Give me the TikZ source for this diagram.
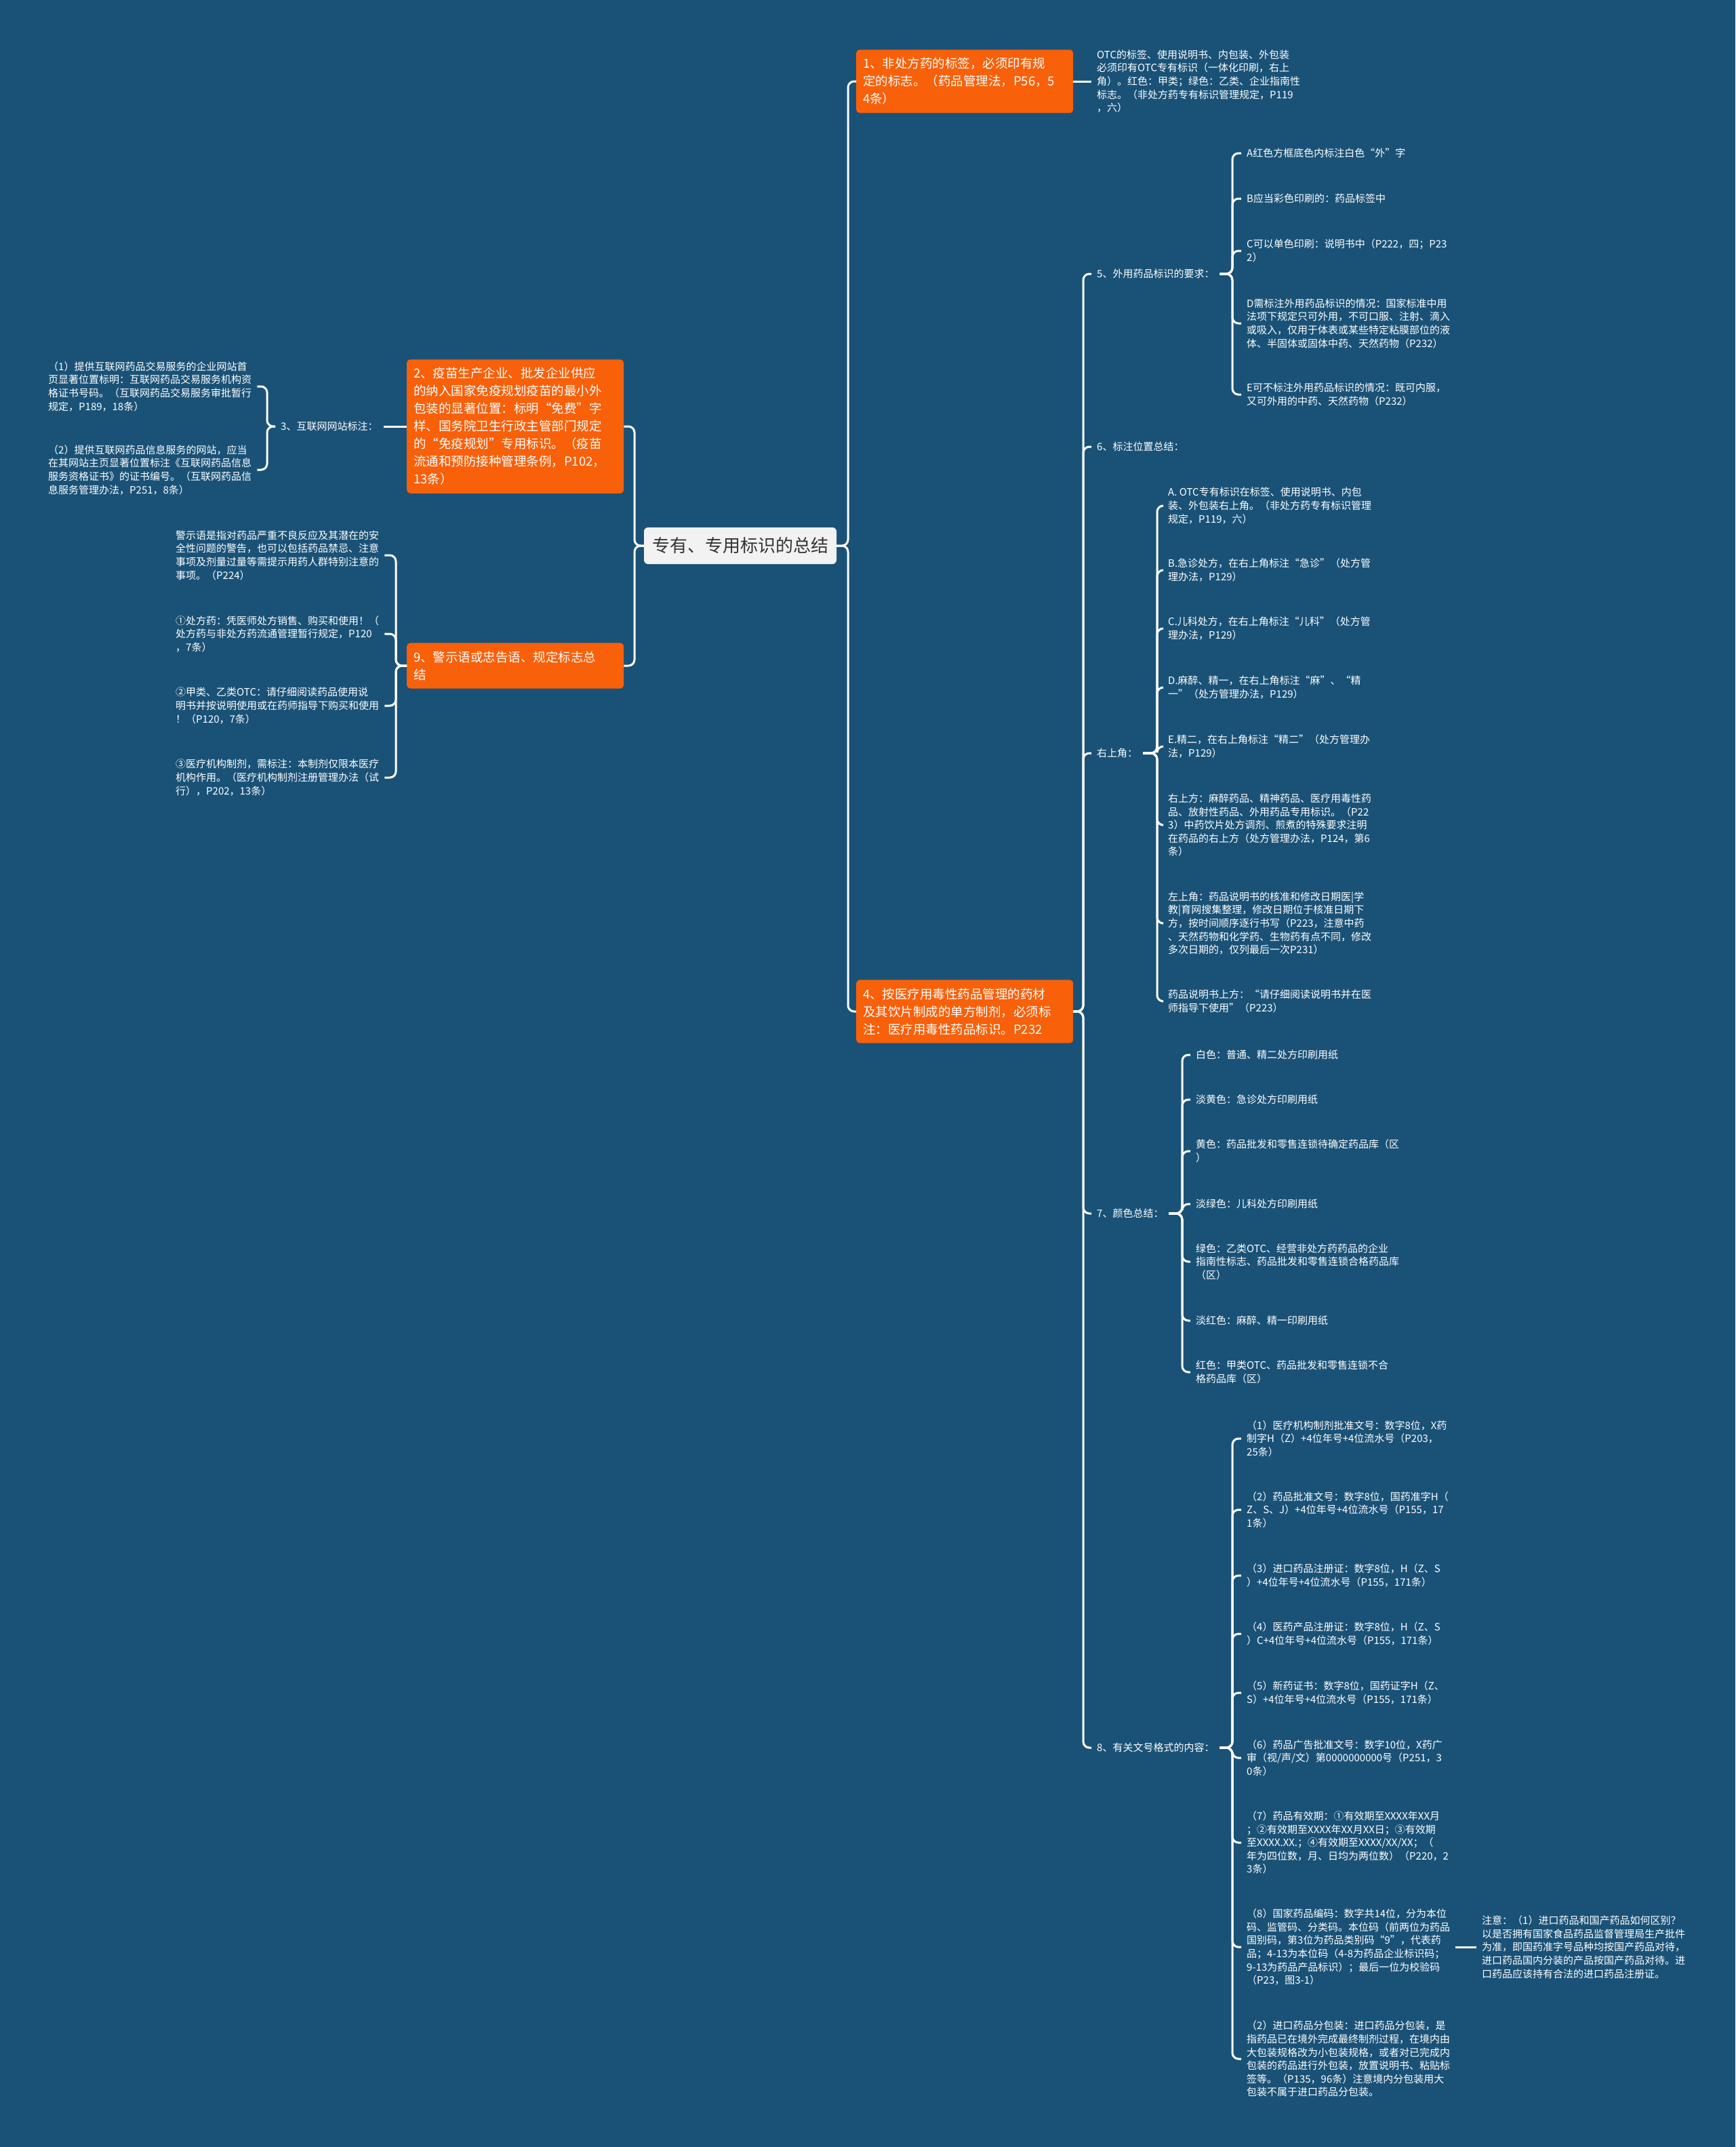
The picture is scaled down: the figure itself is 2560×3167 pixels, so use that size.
\documentclass[tikz,border=0pt]{standalone}
\usepackage{fontspec}
\setmainfont{Noto Sans CJK SC}
\definecolor{bgc}{HTML}{1A5277}
\definecolor{orangec}{HTML}{F8600A}
\definecolor{rootc}{HTML}{F2F2F2}
\definecolor{roottext}{HTML}{333333}
\tikzset{
  conn/.style={draw=white, line width=3pt, rounded corners=9pt},
  orangebox/.style={fill=orangec, rounded corners=5pt, text=white, font=\fontsize{18.5}{26}\selectfont, align=left, text width=300pt, inner xsep=10pt, inner ysep=12pt, anchor=west},
  leaf/.style={text=white, font=\fontsize{15}{19.6}\selectfont, align=left, inner xsep=8pt, inner ysep=2pt, anchor=west},
  rootbox/.style={fill=rootc, rounded corners=6pt, text=roottext, font=\fontsize{26}{30}\selectfont, minimum width=284pt, minimum height=54pt, inner sep=0pt}
}
\begin{document}
\begin{tikzpicture}[x=1pt,y=-1pt]
\useasboundingbox (0,0) rectangle (2560,3167);
\fill[bgc] (0,0) rectangle (2560,3167);

% trunk / bracket coordinates
\coordinate (tR) at (1251,805);
\coordinate (tL) at (936,805);
\coordinate (t4) at (1598,1492);
\coordinate (b5) at (1818,404);
\coordinate (byr) at (1707,1111);
\coordinate (b7) at (1744,1790);
\coordinate (b8) at (1818,2578);
\coordinate (bL3) at (394,629);
\coordinate (bL9) at (584,982);

% root
\node[rootbox] (root) at (1092,805) {专有、专用标识的总结};

% main branches
\node[orangebox] (n1) at (1263,120) {1、非处方药的标签，必须印有规\\定的标志。（药品管理法，P56，5\\4条）};
\node[orangebox] (n4) at (1263,1492) {4、按医疗用毒性药品管理的药材\\及其饮片制成的单方制剂，必须标\\注：医疗用毒性药品标识。P232};
\node[orangebox] (n2) at (600,629) {2、疫苗生产企业、批发企业供应\\的纳入国家免疫规划疫苗的最小外\\包装的显著位置：标明“免费”字\\样、国务院卫生行政主管部门规定\\的“免疫规划”专用标识。（疫苗\\流通和预防接种管理条例，P102，\\13条）};
\node[orangebox] (n9) at (600,982) {9、警示语或忠告语、规定标志总\\结};

% node 1 child
\node[leaf] (otc) at (1610,120) {OTC的标签、使用说明书、内包装、外包装\\必须印有OTC专有标识（一体化印刷，右上\\角）。红色：甲类；绿色：乙类、企业指南性\\标志。（非处方药专有标识管理规定，P119\\，六）};

% node 2 children
\node[leaf] (t3) at (406,629) {3、互联网网站标注：};
\node[leaf] (i1) at (63,570) {（1）提供互联网药品交易服务的企业网站首\\页显著位置标明：互联网药品交易服务机构资\\格证书号码。（互联网药品交易服务审批暂行\\规定，P189，18条）};
\node[leaf] (i2) at (63,693) {（2）提供互联网药品信息服务的网站，应当\\在其网站主页显著位置标注《互联网药品信息\\服务资格证书》的证书编号。（互联网药品信\\息服务管理办法，P251，8条）};

% node 9 children
\node[leaf] (w1) at (251,819) {警示语是指对药品严重不良反应及其潜在的安\\全性问题的警告，也可以包括药品禁忌、注意\\事项及剂量过量等需提示用药人群特别注意的\\事项。（P224）};
\node[leaf] (w2) at (251,935) {①处方药：凭医师处方销售、购买和使用！（\\处方药与非处方药流通管理暂行规定，P120\\，7条）};
\node[leaf] (w3) at (251,1041) {②甲类、乙类OTC：请仔细阅读药品使用说\\明书并按说明使用或在药师指导下购买和使用\\！（P120，7条）};
\node[leaf] (w4) at (251,1147) {③医疗机构制剂，需标注：本制剂仅限本医疗\\机构作用。（医疗机构制剂注册管理办法（试\\行），P202，13条）};

% node 4 children
\node[leaf] (c5) at (1610,404) {5、外用药品标识的要求：};
\node[leaf] (c6) at (1610,659) {6、标注位置总结：};
\node[leaf] (cyr) at (1610,1111) {右上角：};
\node[leaf] (c7) at (1610,1790) {7、颜色总结：};
\node[leaf] (c8) at (1610,2578) {8、有关文号格式的内容：};

% 5 children
\node[leaf] (a5a) at (1831,226) {A红色方框底色内标注白色“外”字};
\node[leaf] (a5b) at (1831,293) {B应当彩色印刷的：药品标签中};
\node[leaf] (a5c) at (1831,370) {C可以单色印刷：说明书中（P222，四；P23\\2）};
\node[leaf] (a5d) at (1831,477) {D需标注外用药品标识的情况：国家标准中用\\法项下规定只可外用，不可口服、注射、滴入\\或吸入，仅用于体表或某些特定粘膜部位的液\\体、半固体或固体中药、天然药物（P232）};
\node[leaf] (a5e) at (1831,582) {E可不标注外用药品标识的情况：既可内服，\\又可外用的中药、天然药物（P232）};

% 右上角 children
\node[leaf] (yA) at (1715,746) {A. OTC专有标识在标签、使用说明书、内包\\装、外包装右上角。（非处方药专有标识管理\\规定，P119，六）};
\node[leaf] (yB) at (1715,841) {B.急诊处方，在右上角标注“急诊”（处方管\\理办法，P129）};
\node[leaf] (yC) at (1715,927) {C.儿科处方，在右上角标注“儿科”（处方管\\理办法，P129）};
\node[leaf] (yD) at (1715,1014) {D.麻醉、精一，在右上角标注“麻”、“精\\一”（处方管理办法，P129）};
\node[leaf] (yE) at (1715,1101) {E.精二，在右上角标注“精二”（处方管理办\\法，P129）};
\node[leaf] (yF) at (1715,1217) {右上方：麻醉药品、精神药品、医疗用毒性药\\品、放射性药品、外用药品专用标识。（P22\\3）中药饮片处方调剂、煎煮的特殊要求注明\\在药品的右上方（处方管理办法，P124，第6\\条）};
\node[leaf] (yG) at (1715,1362) {左上角：药品说明书的核准和修改日期医|学\\教|育网搜集整理，修改日期位于核准日期下\\方，按时间顺序逐行书写（P223，注意中药\\、天然药物和化学药、生物药有点不同，修改\\多次日期的，仅列最后一次P231）};
\node[leaf] (yH) at (1715,1477) {药品说明书上方：“请仔细阅读说明书并在医\\师指导下使用”（P223）};

% 7 children
\node[leaf] (k1) at (1756,1556) {白色：普通、精二处方印刷用纸};
\node[leaf] (k2) at (1756,1622) {淡黄色：急诊处方印刷用纸};
\node[leaf] (k3) at (1756,1698) {黄色：药品批发和零售连锁待确定药品库（区\\）};
\node[leaf] (k4) at (1756,1776) {淡绿色：儿科处方印刷用纸};
\node[leaf] (k5) at (1756,1861) {绿色：乙类OTC、经营非处方药药品的企业\\指南性标志、药品批发和零售连锁合格药品库\\（区）};
\node[leaf] (k6) at (1756,1948) {淡红色：麻醉、精一印刷用纸};
\node[leaf] (k7) at (1756,2024) {红色：甲类OTC、药品批发和零售连锁不合\\格药品库（区）};

% 8 children
\node[leaf] (m1) at (1831,2122) {（1）医疗机构制剂批准文号：数字8位，X药\\制字H（Z）+4位年号+4位流水号（P203，\\25条）};
\node[leaf] (m2) at (1831,2227) {（2）药品批准文号：数字8位，国药准字H（\\Z、S、J）+4位年号+4位流水号（P155，17\\1条）};
\node[leaf] (m3) at (1831,2324) {（3）进口药品注册证：数字8位，H（Z、S\\）+4位年号+4位流水号（P155，171条）};
\node[leaf] (m4) at (1831,2410) {（4）医药产品注册证：数字8位，H（Z、S\\）C+4位年号+4位流水号（P155，171条）};
\node[leaf] (m5) at (1831,2497) {（5）新药证书：数字8位，国药证字H（Z、\\S）+4位年号+4位流水号（P155，171条）};
\node[leaf] (m6) at (1831,2593) {（6）药品广告批准文号：数字10位，X药广\\审（视/声/文）第0000000000号（P251，3\\0条）};
\node[leaf] (m7) at (1831,2718) {（7）药品有效期：①有效期至XXXX年XX月\\；②有效期至XXXX年XX月XX日；③有效期\\至XXXX.XX.；④有效期至XXXX/XX/XX；（\\年为四位数，月、日均为两位数）（P220，2\\3条）};
\node[leaf] (m8) at (1831,2872) {（8）国家药品编码：数字共14位，分为本位\\码、监管码、分类码。本位码（前两位为药品\\国别码，第3位为药品类别码“9”，代表药\\品；4-13为本位码（4-8为药品企业标识码；\\9-13为药品产品标识）；最后一位为校验码\\（P23，图3-1）};
\node[leaf] (m9) at (1831,3037) {（2）进口药品分包装：进口药品分包装，是\\指药品已在境外完成最终制剂过程，在境内由\\大包装规格改为小包装规格，或者对已完成内\\包装的药品进行外包装，放置说明书、粘贴标\\签等。（P135，96条）注意境内分包装用大\\包装不属于进口药品分包装。};
\node[leaf] (note) at (2178,2872) {注意：（1）进口药品和国产药品如何区别？\\以是否拥有国家食品药品监督管理局生产批件\\为准，即国药准字号品种均按国产药品对待，\\进口药品国内分装的产品按国产药品对待。进\\口药品应该持有合法的进口药品注册证。};

% connectors: root
\draw[conn] (root.east) -- (root.east -| tR) |- (n1.west);
\draw[conn] (root.east) -- (root.east -| tR) |- (n4.west);
\draw[conn] (root.west) -- (root.west -| tL) |- (n2.east);
\draw[conn] (root.west) -- (root.west -| tL) |- (n9.east);

\draw[conn] (n1.east) -- (otc.west);
\draw[conn] (n2.west) -- (t3.east);
\foreach \c in {i1,i2} \draw[conn] (t3.west) -- (t3.west -| bL3) |- (\c.east);
\foreach \c in {w1,w2,w3,w4} \draw[conn] (n9.west) -- (n9.west -| bL9) |- (\c.east);

\foreach \c in {c5,c6,cyr,c7,c8} \draw[conn] (n4.east) -- (n4.east -| t4) |- (\c.west);
\foreach \c in {a5a,a5b,a5c,a5d,a5e} \draw[conn] (c5.east) -- (c5.east -| b5) |- (\c.west);
\foreach \c in {yA,yB,yC,yD,yE,yF,yG,yH} \draw[conn] (cyr.east) -- (cyr.east -| byr) |- (\c.west);
\foreach \c in {k1,k2,k3,k4,k5,k6,k7} \draw[conn] (c7.east) -- (c7.east -| b7) |- (\c.west);
\foreach \c in {m1,m2,m3,m4,m5,m6,m7,m8,m9} \draw[conn] (c8.east) -- (c8.east -| b8) |- (\c.west);
\draw[conn] (m8.east) -- (note.west);
\end{tikzpicture}
\end{document}
